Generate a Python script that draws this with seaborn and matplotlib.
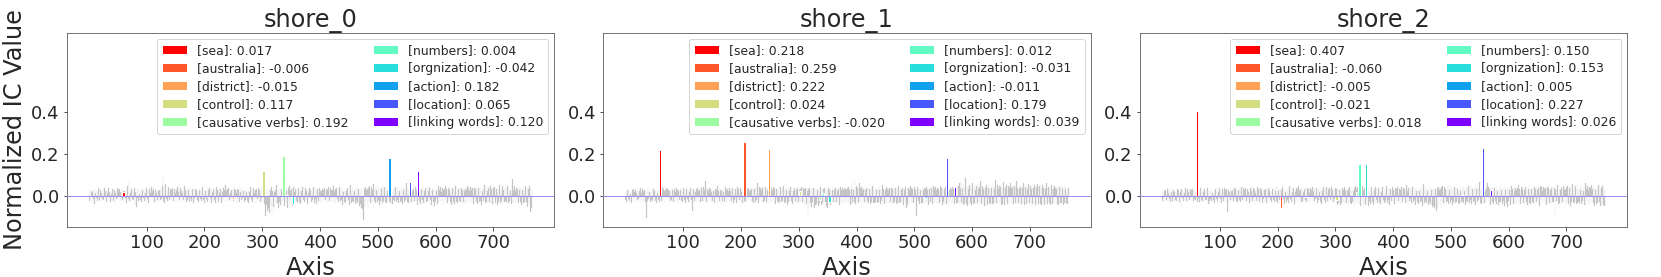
# IC values per axis for three shores, highlighted concepts overlaid on the grey background

import numpy as np
import matplotlib
matplotlib.use("Agg")
import matplotlib.pyplot as plt
import seaborn as sns

# ---- data ----
shore_names = ["shore_0", "shore_1", "shore_2"]

concepts = ["sea", "australia", "district", "control", "causative verbs",
            "numbers", "orgnization", "action", "location", "linking words"]
concept_axis = [60, 206, 249, 302, 337, 342, 353, 520, 556, 570]

shore0_values = [0.017, -0.006, -0.015, 0.117, 0.192, 0.004, -0.042, 0.182, 0.065, 0.120]
shore1_values = [0.218, 0.259, 0.222, 0.024, -0.020, 0.012, -0.031, -0.011, 0.179, 0.039]
shore2_values = [0.407, -0.060, -0.005, -0.021, 0.018, 0.150, 0.153, 0.005, 0.227, 0.026]

# background values for all 768 axes, in thousandths
grey_shore0 = [
    12, -25, 30, -8, 18, -35, 22, 5, -15, 28, -40, 10, 33, -12, 20, -28, 15, 38, -20, 8, 25, -30, 14, -18,
    30, -22, 9, 35, -14, 21, -33, 27, 11, -26, 36, -10, 19, -31, 24, 7, -19, 32, -24, 16, 29, -37, 13, 22,
    -16, 34, -21, 26, -9, 31, -29, 18, -13, 37, -23, 12, 20, -27, 23, -11, 30, -34, 15, 45, -18, 72, -25, 28,
    14, -30, 33, -17, 25, -20, 11, 38, -45, 19, -53, 27, -14, 35, -26, 9, 31, -19, 22, -32, 16, 29, -12, 36,
    -24, 20, 13, -28, 34, -15, 27, -36, 18, 30, -21, 10, 39, -27, 23, -13, 32, -30, 17, 26, -38, 14, 35, -19,
    21, -33, 28, 12, -22, 37, -16, 48, 88, -25, 31, -35, 24, 55, -18, 29, -28, 19, 42, -20, 15, 33, -31, 26,
    -12, 36, -24, 22, 30, -17, 13, -34, 27, 40, -26, 18, 58, -21, 34, -15, 24, -37, 11, 31, -23, 45, -18, 28,
    16, -29, 35, -20, 25, 12, -32, 38, -14, 23, -27, 30, 19, -36, 26, -11, 33, -25, 21, 37, -19, 14, -30, 29,
    24, -18, 32, -28, 17, 39, -22, 13, -35, 27, 20, -16, 34, -31, 8, 25, -24, 36, -13, 30, -38, 22, 15, -26,
    33, -20, 28, -34, 18, 41, -15, 26, -29, 37, 12, -23, 31, -37, 23, 16, -27, 35, -19, 28, 49, -32, 20, -14,
    30, -26, 38, -21, 24, 14, -33, 29, -17, 36, -28, 19, 32, -24, 27, 11, -35, 33, -18, 25, 40, -30, 17, 34,
    -22, 28, -13, 35, 21, -31, 26, -19, 37, 15, -27, 32, -36, 24, 18, -25, 39, -16, 29, -33, 22, 36, -21, 13,
    27, -34, 31, 20, -18, 38, -26, 25, 16, -30, 35, -14, 44, -38, 28, 21, -40, 62, -96, -45, 30, -72, 24, -60,
    33, -85, 26, -48, 40, -92, 22, -55, 35, 18, -70, 29, -42, 52, -35, 25, -58, 38, -30, 20, -47, 31, -26, 42,
    -33, 28, 55, -50, 70, -38, 24, 30, -62, 35, -27, 48, -44, 22, -36, 31, -52, 26, 40, -30, 19, -45, 33, -24,
    28, -38, 21, 36, -29, 17, -42, 31, 24, -35, 39, -20, 27, -33, 16, 34, -26, 22, -39, 30, 13, -28, 37, -18,
    25, -31, 32, -22, 19, 41, -34, 27, -16, 35, -40, 23, 30, -25, 18, 38, -29, 24, -36, 21, 33, -19, 28, -32,
    36, -23, 15, 30, -37, 26, -20, 39, -28, 22, 34, -17, 29, -35, 25, 46, -30, 20, -41, 32, -24, 37, -15, 27,
    -33, 23, 40, -26, 31, -19, 28, -44, 35, 18, -30, 25, -38, 33, 21, -27, 36, -22, 30, -46, 24, 52, -35, 29,
    -24, 38, -31, 27, 20, -42, 34, -28, 45, -36, 23, 31, -50, 26, -40, 35, -58, 29, -65, -118, -48, 33, -55, 40,
    25, -38, 30, -60, 36, -27, 44, -34, 21, 39, -45, 28, -30, 56, -24, 33, -37, 48, 26, -32, 42, -20, 35, -43,
    30, -28, 38, 22, -35, 51, -26, 29, 40, -31, 24, -38, 36, 20, -29, 33, -25, 45, -34, 28, 19, -40, 32, -22,
    37, -27, 25, 43, -33, 30, -19, 41, -36, 27, 22, -30, 38, -24, 34, -41, 28, 48, -29, 35, -20, 31, 60, -33,
    26, -37, 39, 24, -28, 42, -31, 29, 21, -35, 33, 55, -25, 40, -30, 27, 36, -44, 22, 31, -27, 38, -39, 24,
    32, -23, 45, -36, 28, 20, -42, 35, -29, 50, -27, 33, 24, -38, 40, -21, 30, -45, 36, 26, -33, 29, -52, 37,
    -25, 34, 22, -40, 31, 44, -30, 27, -36, 39, 19, -28, 35, -43, 25, 33, -24, 47, -34, 30, 21, -37, 38, -26,
    29, 42, -32, 24, -45, 36, 20, -29, 33, -40, 27, 48, -31, 22, -38, 35, 30, -26, 41, -33, 25, 37, -42, 28,
    -29, 39, 23, -35, 32, -47, 27, 44, -30, 36, -24, 21, 40, -37, 29, -28, 34, 22, -41, 38, -26, 31, 46, -33,
    26, -39, 35, 20, -30, 43, -27, 32, -44, 24, 37, -25, 30, 49, -36, 28, -32, 41, 23, -38, 34, -29, 27, 45,
    -34, 30, 22, -40, 36, -28, 42, 25, -37, 33, 19, -45, 38, -30, 27, 52, -35, 31, -26, 24, 44, -39, 29, -31,
    35, -27, 40, -33, 26, 47, -38, 30, -24, 37, 21, -42, 33, 80, -36, 28, -30, 45, 24, -40, 36, -28, 31, 50,
    -35, 27, 39, -31, 34, -46, 25, 42, -37, 30, -33, 22, 48, -29, 36, -55, 28, 33, -40, 44, -78, 31, -60, 26,
]
grey_shore1 = [
    -20, 15, -32, 26, 10, -18, 31, -27, 22, 8, -35, 19, 28, -14, 33, -23, 17, 25, -30, 12, 36, -21, 27, -16,
    24, -29, 35, -19, 13, 30, -25, 20, -38, 29, 16, -33, -110, 22, -28, 34, -15, 27, 18, -31, 23, -20, 37, -26,
    30, -17, 21, 33, -24, 26, -36, 14, 29, -22, 38, -30, 19, 35, -27, 24, 40, -18, 31, -34, 20, 28, -23, 36,
    -15, 32, 25, -37, 22, 18, -26, 34, -20, 27, 41, -33, 23, 30, -29, 16, 37, -24, 26, -40, 21, 33, -19, 28,
    35, -27, 20, -32, 38, 15, -22, 29, -36, 24, 31, -18, 44, -30, 26, 19, -34, 37, -21, 28, -72, 23, 33, -25,
    29, 17, -38, 31, -23, 36, 22, -28, 25, 43, -31, 20, 34, -26, 18, 39, -33, 27, -20, 70, -29, 24, 32, -35,
    21, 38, -24, 30, -30, 16, 35, -27, 23, 28, -37, 19, 33, -21, 26, 45, -32, 22, 36, -25, 29, -39, 24, 31,
    -28, 34, 18, -33, 27, 40, -22, 25, -35, 30, 20, -26, 37, -31, 23, 32, -24, 35, 19, -38, 28, -20, 33, 26,
    -34, 22, 39, -27, 31, -23, 25, 36, -30, 18, 34, -36, 27, 21, -25, 42, -32, 29, 35, 30, -22, 38, -28, 24,
    26, -30, 33, 52, -26, 35, -34, 30, 45, -29, 38, -23, 32, 60, -35, 28, 41, -27, 36, 25, -38, 34, 47, -31,
    30, -25, 40, 24, -33, 36, 28, -40, 33, 55, -27, 31, -36, 38, 26, -30, 43, -24, 35, 29, -42, 32, 37, -28,
    27, -35, 34, -29, 41, 23, -31, 36, -26, 30, 48, -38, 28, -33, 35, 25, -45, 39, -30, 31, 22, -36, 40, -27,
    33, -39, 29, 24, -34, 37, -28, 32, 26, -41, 35, -30, 39, 27, -37, 31, -33, 42, -29, 28, 36, -44, 30, -35,
    38, -42, 34, 22, -100, 30, -48, 36, -38, 27, -55, 41, -33, 35, 29, -60, 32, -46, 38, -40, 25, 34, -52, 30,
    -37, 28, 40, -44, 31, -35, 26, 33, -58, 37, -30, 42, -48, 29, -62, 36, -41, 28, 34, -47, 30, -38, 25, 39,
    -33, 31, 27, -42, 35, -29, 38, 24, -36, 33, -45, 30, 41, -31, 26, -38, 34, 28, -40, 37, -27, 32, -35, 29,
    36, -30, 42, -38, 27, 33, -44, 30, 70, -35, 38, 25, -32, 80, -40, 31, 45, -29, 36, -37, 28, 62, -33, 34,
    -26, 40, 29, -39, 33, 52, -31, 27, -43, 37, 30, -28, 44, -36, 32, 24, -41, 38, -30, 35, 48, -34, 29, -37,
    31, -29, 39, 26, -38, 34, -32, 43, 28, -40, 36, -27, 33, 50, -35, 30, -42, 37, 25, -31, 41, -36, 32, 27,
    -39, 35, 29, -33, 38, -44, 31, 26, -36, 42, -30, 34, 28, -41, 37, -34, 33, 46, -38, 30, -32, 40, 27, -35,
    36, -43, 32, 29, -37, 41, -60, 34, -45, 30, 38, -33, 27, 44, -39, 35, -31, 31, 28, -36, 40, -30, 25, 33,
    -100, 39, 30, -28, 37, -42, 32, 26, -38, 43, -35, 31, 29, -40, 36, 33, -30, 42, -37, 28, 35, -44, 31, 27,
    -33, 38, 34, -39, 30, 45, -36, 32, -29, 40, 27, -41, 36, -34, 31, 28, -38, 44, -32, 35, 29, -43, 37, -30,
    33, -36, 41, 30, -40, 55, -34, 38, -31, 29, -46, 36, 32, -38, 42, -33, 30, 48, -42, 35, 27, -37, 39, -35,
    45, -40, 58, -33, 36, 72, -38, 31, 50, -45, 42, -36, 34, 85, -42, 38, -50, 47, 30, -39, 53, -35, 40, -44,
    36, 62, -41, 33, -37, 48, 29, -43, 44, -38, 56, 31, -46, 40, -34, 68, -40, 35, 47, -36, 30, -48, 42, 37,
    -39, 51, 34, -44, 38, 60, -37, 32, -42, 46, 35, -40, 57, -36, 41, 30, -45, 76, -38, 36, 49, -41, 33, 44,
    -37, 40, 55, -43, 35, -39, 64, 31, -46, 42, 38, -35, 50, -40, 33, 45, -42, 37, 58, -38, 34, -47, 41, 36,
    -40, 48, 32, -38, 43, 70, -44, 35, -36, 52, 30, -45, 39, 46, -41, 34, -37, 60, 33, -43, 40, 36, -39, 47,
    31, -42, 54, -36, 38, 44, -48, 33, 62, -40, 35, -38, 49, 30, -44, 41, -35, 56, 37, -41, 32, 45, -39, 36,
    -43, 40, 50, -37, 34, -45, 43, 31, -40, 58, 36, -42, 39, 47, -38, 33, -46, 52, 35, -40, 44, 30, -36, 48,
    37, -41, 33, 46, -39, 36, -44, 42, 30, -37, 51, -35, 38, 29, -43, 40, -34, 45, 32, -38, 35, -40, 28, 34,
]
grey_shore2 = [
    18, -26, 30, -12, 22, -33, 27, 9, -20, 31, -36, 14, 35, -17, 24, -29, 19, 36, -24, 11, 28, -31, 16, -21,
    26, -28, 13, 33, -18, 25, -30, 29, 15, -70, 32, -14, 23, -27, 20, 10, -23, 34, -26, 19, 31, -33, 17, 24,
    -19, 30, -25, 28, -12, 33, -27, 21, -16, 35, -22, 15, 24, -29, 26, -14, 32, -31, 18, 38, -20, 29, -28, 25,
    17, -32, 30, -19, 27, -23, 14, 35, -39, 22, -28, 29, -17, 33, -25, 12, 29, -22, 24, -34, 19, 31, -15, 34,
    -27, 23, 16, -30, 36, -18, 25, -35, 20, 32, -24, 13, 37, -29, 26, -16, 30, -80, 21, 28, -36, 17, 33, -22,
    24, -35, 26, 15, -25, 35, -19, 31, 38, -28, 29, -33, 27, 22, -21, 32, -30, 22, 40, -23, 18, 35, -29, 28,
    -15, 34, -27, 25, 32, -20, 16, -36, 30, 37, -29, 21, 45, -24, 36, -18, 27, -35, 14, 33, -26, 40, -21, 30,
    19, -31, 37, -23, 28, 15, -34, 36, -17, 26, -30, 33, 22, -38, 29, -14, 35, -27, 24, 39, -22, 17, -33, 32,
    28, -21, 35, -31, 20, 42, -25, 48, -38, 30, 23, -19, 37, -34, 12, 28, -27, 39, -16, 33, -40, 25, 18, -29,
    36, -23, 31, -37, 22, 44, -18, 29, -32, 40, 15, -26, 34, -39, 26, 19, -30, 38, -22, 31, 46, -35, 23, -17,
    33, -29, 41, -24, 27, 17, -36, 32, -20, 39, -31, 22, 35, -27, 30, 14, -38, 36, -21, 28, 43, -33, 20, 37,
    -25, 31, -16, 38, 24, -34, 29, -22, 40, 18, -30, 35, -39, 27, 21, -28, 42, -19, 32, -36, 25, 39, -24, 16,
    30, -37, 34, 23, -21, 41, -29, 28, 19, -33, 38, -17, 36, -41, 31, 24, -43, 38, -35, 27, 33, -44, 27, -38,
    36, -46, 29, -30, 43, -40, 25, -34, 38, 21, -45, 32, -28, 40, -38, 28, -42, 41, -33, 23, -50, 34, -29, 45,
    -36, 31, 42, -40, 36, -41, 27, 33, -48, 38, -30, 45, -47, 25, -39, 34, -44, 29, 43, -33, 22, -48, 36, -27,
    31, -41, 24, 39, -32, 20, -45, 34, 27, -38, 42, -23, 30, -36, 19, 37, -29, 25, -42, 33, 16, -31, 40, -21,
    28, -34, 35, -25, 22, 44, -37, 30, -19, 38, -43, 26, 33, -28, 21, 41, -32, 27, -39, 24, 36, -22, 31, -35,
    39, -26, 18, 33, -40, 29, -23, 42, -31, 25, 37, -20, 32, -38, 28, 49, -33, 23, -44, 35, -27, 40, -18, 30,
    -36, 26, 43, -29, 34, -22, 31, -47, 38, 21, -33, 28, -41, 36, 24, -30, 39, -25, 33, -49, 27, 55, -38, 32,
    -27, 41, -34, 30, 23, -45, 37, -31, 48, -39, 26, 34, -53, 29, -43, 38, -61, 32, -68, -75, -51, 36, -58, 43,
    28, -41, 33, -63, 39, -30, 47, -37, 24, 42, -48, 31, -33, 59, -27, 36, -40, 51, 29, -35, 45, -23, 38, -46,
    33, -31, 41, 25, -38, 54, -29, 32, 43, -34, 27, -41, 39, 23, -32, 36, -28, 48, -37, 31, 22, -43, 35, -25,
    40, -30, 28, 46, -36, 33, -22, 44, -39, 30, 25, -33, 41, -27, 37, -44, 31, 51, -32, 38, -23, 34, 63, -36,
    29, -40, 42, 27, -31, 45, -34, 32, 24, -38, 36, 58, -28, 43, -33, 30, 39, -47, 25, 34, -30, 41, -42, 27,
    35, -26, 48, -39, 31, 23, -45, 38, -32, 53, -30, 36, 27, -41, 43, -24, 33, -48, 39, 29, -36, 32, -55, 40,
    -28, 37, 25, -43, 34, 47, -33, 30, -39, 42, 22, -31, 38, -46, 28, 36, -27, 50, -37, 33, 24, -40, 41, -29,
    32, 45, -35, 27, -48, 39, 23, -32, 36, -43, 30, 51, -34, 25, -41, 38, 33, -29, 44, -36, 28, 40, -45, 31,
    -32, 42, 26, -38, 35, -50, 30, 47, -33, 39, -27, 24, 43, -40, 32, -31, 37, 25, -44, 41, -29, 34, 49, -36,
    29, -42, 38, 23, -33, 46, -30, 35, -90, 27, 40, -28, 33, 52, -39, 31, -35, 44, 26, -41, 37, -32, 30, 48,
    -37, 33, 25, -43, 39, -31, 45, 28, -40, 36, 22, -48, 41, -33, 30, 55, -38, 34, -29, 27, 47, -42, 32, -34,
    38, -30, 43, -36, 29, 50, -41, 33, -27, 40, 24, -45, 36, 60, -39, 31, -33, 48, 27, -43, 39, -31, 34, 53,
    -38, 30, 42, -34, 37, -49, 28, 45, -40, 33, -36, 25, 51, -32, 39, -52, 31, 36, -43, 47, -45, 34, -48, 29,
]

shore_values = [shore0_values, shore1_values, shore2_values]
grey_values = [grey_shore0, grey_shore1, grey_shore2]

# ---- plot ----
sns.set_style("ticks")
plt.rcParams["font.family"] = ["DejaVu Sans"]

colors = plt.cm.rainbow(np.linspace(1, 0, len(concepts)))

DPI = 72
fig, axes = plt.subplots(1, 3, figsize=(1661 / DPI, 277 / DPI), dpi=DPI)
fig.subplots_adjust(left=0.0402, right=0.9797, bottom=0.182, top=0.882, wspace=0.1007)

for ax, name, vals, grey in zip(axes, shore_names, shore_values, grey_values):
    positions = np.arange(len(grey))
    sns.barplot(x=positions, y=np.array(grey) / 1000.0, native_scale=True,
                color="#c4c4c4", saturation=1, edgecolor="#c4c4c4", linewidth=0.2,
                width=1.0, errorbar=None, ax=ax)

    for pos, label, v, c in zip(concept_axis, concepts, vals, colors):
        ax.bar(pos, v, width=4, color=c, label=f"[{label}]: {v:.3f}", zorder=3)

    ax.axhline(0, color="#9b8cf5", lw=1, zorder=4)

    ax.set_xlim(-38.4, 805.4)
    ax.set_ylim(-0.149, 0.782)
    ax.set_xticks([100, 200, 300, 400, 500, 600, 700])
    ax.set_xticklabels(["100", "200", "300", "400", "500", "600", "700"])
    ax.set_yticks([0.0, 0.2, 0.4])
    ax.tick_params(labelsize=18)
    ax.set_title(name, fontsize=24)
    ax.set_xlabel("Axis", fontsize=24)
    ax.set_ylabel("")
    ax.legend(loc="upper right", ncol=2, fontsize=12.4, labelspacing=0.4)
    for s in ax.spines.values():
        s.set_color("#555555")

axes[0].set_ylabel("Normalized IC Value", fontsize=24)

plt.savefig("out.png", dpi=DPI)
